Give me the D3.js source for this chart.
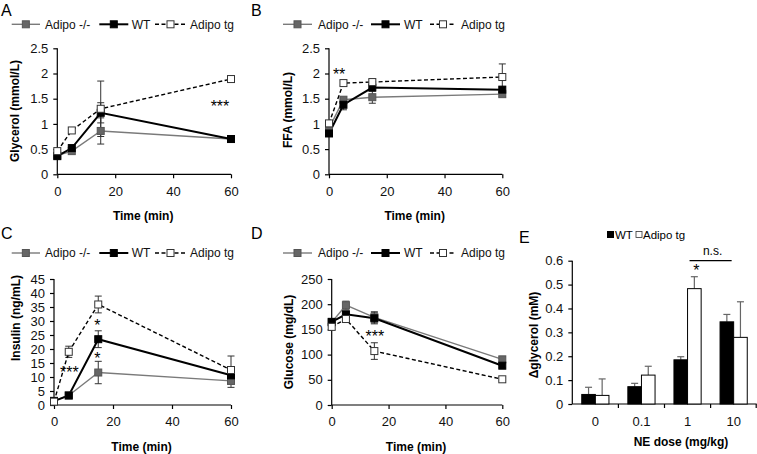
<!DOCTYPE html>
<html><head><meta charset="utf-8">
<script src="https://cdn.jsdelivr.net/npm/d3@7"></script>
<style>body{margin:0;background:#fff}svg{display:block}text{font-family:"Liberation Sans",Arial,sans-serif}</style>
</head><body>
<svg id="c" width="757" height="454"></svg>
<script>
// ---------- data ----------
const times = [0, 5, 15, 60];
const seriesNames = ["Adipo -/-", "WT", "Adipo tg"];

const glycerolKO = [0.37, 0.46, 0.86, 0.70];
const glycerolWT = [0.36, 0.52, 1.22, 0.70];
const glycerolTG = [0.46, 0.87, 1.30, 1.89];
const glycerolKOErr = [0.02, 0.03, 0.26, 0.02];
const glycerolWTErr = [0.02, 0.03, 0.20, 0.02];
const glycerolTGErr = [0.03, 0.05, 0.55, 0.03];

const ffaKO = [0.91, 1.48, 1.53, 1.59];
const ffaWT = [0.81, 1.38, 1.72, 1.68];
const ffaTG = [1.01, 1.81, 1.83, 1.93];
const ffaKOErr = [0.05, 0.05, 0.12, 0.05];
const ffaWTErr = [0.05, 0.10, 0.05, 0.05];
const ffaTGErr = [0.05, 0.05, 0.05, 0.26];

const insulinKO = [1.5, 3.4, 11.6, 8.6];
const insulinWT = [1.4, 3.4, 23.5, 10.6];
const insulinTG = [1.2, 19.0, 35.9, 12.5];
const insulinKOErr = [0.5, 0.5, 4.0, 2.3];
const insulinWTErr = [0.5, 0.5, 3.0, 1.0];
const insulinTGErr = [0.5, 2.0, 3.0, 5.0];

const glucoseKO = [164, 198, 174, 90.6];
const glucoseWT = [165, 180, 172, 78];
const glucoseTG = [155, 170.6, 107, 51];
const glucoseKOErr = [5, 8, 11, 5];
const glucoseWTErr = [5, 5, 11, 4];
const glucoseTGErr = [5, 5, 16.5, 3];

const doses = ["0", "0.1", "1", "10"];
const barWT = [0.040, 0.0725, 0.185, 0.344];
const barTG = [0.036, 0.121, 0.483, 0.279];
const barWTErr = [0.030, 0.014, 0.013, 0.031];
const barTGErr = [0.069, 0.037, 0.050, 0.149];

const xTicks = [0, 20, 40, 60];
// ---------- drawing ----------
const svg = d3.select("#c");
const FONT = "Liberation Sans, Arial, sans-serif";
const styles = [
  {stroke: "#7a7a7a", width: 1.4, dash: null, fill: "#666", mstroke: "#555"},
  {stroke: "#000", width: 2, dash: null, fill: "#000", mstroke: "#000"},
  {stroke: "#000", width: 1.4, dash: "4,2.5", fill: "#fff", mstroke: "#333"}
];
const STAR_SIZE = 16, STAR_DY = 9.3;

function legend(y, pos) {
  const g = svg.append("g");
  pos.forEach((p, i) => {
    const s = styles[i];
    g.append("line").attr("x1", p[0]).attr("x2", p[1]).attr("y1", y).attr("y2", y)
      .attr("stroke", s.stroke).attr("stroke-width", s.width).attr("stroke-dasharray", s.dash);
    const m = (p[0] + p[1]) / 2;
    g.append("rect").attr("x", m - 3.5).attr("y", y - 3.5).attr("width", 7).attr("height", 7)
      .attr("fill", s.fill).attr("stroke", s.mstroke).attr("stroke-width", 1);
    g.append("text").attr("x", p[2]).attr("y", y + 4.3).attr("font-size", 12).attr("fill", "#111").text(seriesNames[i]);
  });
}

function linePanel(o) {
  const x = d3.scaleLinear().domain([0, 60]).range([o.x0, o.x1]);
  const y = d3.scaleLinear().domain([0, o.ymax]).range([o.y0, o.y1]);
  const g = svg.append("g");
  const ya = g.append("g").attr("transform", `translate(${o.x0},0)`)
    .call(d3.axisLeft(y).tickValues(d3.range(0, o.ymax + o.step / 2, o.step)).tickSize(4).tickPadding(5).tickFormat(d => +d.toFixed(2)));
  const xa = g.append("g").attr("transform", `translate(0,${o.y0})`)
    .call(d3.axisBottom(x).tickValues(xTicks).tickSize(4).tickPadding(8));
  [ya, xa].forEach(a => {
    a.select(".domain").attr("stroke", "#000").attr("stroke-width", 1.2);
    a.selectAll(".tick line").attr("stroke", "#000").attr("stroke-width", 1.2);
    a.selectAll("text").attr("font-size", 13).attr("font-family", FONT).attr("fill", "#111");
  });
  ya.select(".domain").attr("d", `M0,${o.y0}V${o.y1}`);
  xa.select(".domain").attr("d", `M${o.x0},0H${o.x1}`);
  // titles
  g.append("text").attr("transform", `translate(${o.ytx},${o.yty}) rotate(-90)`).attr("text-anchor", "middle")
    .attr("font-size", 12).attr("font-weight", "bold").text(o.ytitle);
  g.append("text").attr("x", (o.x0 + o.x1) / 2 - 1).attr("y", o.y0 + 46).attr("text-anchor", "middle")
    .attr("font-size", 12).attr("font-weight", "bold").text("Time (min)");
  g.append("text").attr("x", o.lx).attr("y", o.ly).attr("font-size", 16).text(o.letter);
  // error bars
  o.series.forEach((s, i) => {
    const err = o.errs[i];
    s.forEach((v, j) => {
      if (err[j] <= 0) return;
      const cx = x(times[j]);
      g.append("line").attr("x1", cx).attr("x2", cx).attr("y1", y(v - err[j])).attr("y2", y(v + err[j])).attr("stroke", "#333").attr("stroke-width", 1);
      [v - err[j], v + err[j]].forEach(e => g.append("line").attr("x1", cx - 3.5).attr("x2", cx + 3.5).attr("y1", y(e)).attr("y2", y(e)).attr("stroke", "#333").attr("stroke-width", 1));
    });
  });
  const line = d3.line().x((d, j) => x(times[j])).y(d => y(d));
  o.series.forEach((s, i) => {
    const st = styles[i];
    g.append("path").attr("d", line(s)).attr("fill", "none").attr("stroke", st.stroke)
      .attr("stroke-width", st.width).attr("stroke-dasharray", st.dash);
  });
  o.series.forEach((s, i) => {
    const st = styles[i];
    s.forEach((v, j) => g.append("rect").attr("x", x(times[j]) - 3.5).attr("y", y(v) - 3.5).attr("width", 7).attr("height", 7)
      .attr("fill", st.fill).attr("stroke", st.mstroke).attr("stroke-width", 1));
  });
  o.stars.forEach(s => g.append("text").attr("x", x(s[0])).attr("y", y(s[1]) + STAR_DY).attr("text-anchor", "middle").attr("font-size", STAR_SIZE).text(s[2]));
  legend(o.legY, o.legPos);
}

linePanel({x0: 57.3, x1: 231, y0: 174.3, y1: 48.3, ymax: 2.5, step: 0.5, ytitle: "Glycerol (mmol/L)", ytx: 19, yty: 111,
  letter: "A", lx: 1, ly: 16, series: [glycerolKO, glycerolWT, glycerolTG], errs: [glycerolKOErr, glycerolWTErr, glycerolTGErr],
  stars: [[56.2, 1.42, "***"]], legY: 24.3, legPos: [[11.7, 40, 45], [99.3, 128.3, 131.7], [155, 186, 190]]});
linePanel({x0: 329, x1: 502.3, y0: 174.3, y1: 48.3, ymax: 2.5, step: 0.5, ytitle: "FFA (mmol/L)", ytx: 292, yty: 110,
  letter: "B", lx: 251, ly: 16, series: [ffaKO, ffaWT, ffaTG], errs: [ffaKOErr, ffaWTErr, ffaTGErr],
  stars: [[3.5, 2.06, "**"]], legY: 24.3, legPos: [[283, 312, 318], [371, 400, 404], [430, 456, 461]]});
linePanel({x0: 54, x1: 231, y0: 405, y1: 279, ymax: 45, step: 5, ytitle: "Insulin (ng/mL)", ytx: 20, yty: 318,
  letter: "C", lx: 1, ly: 239, series: [insulinKO, insulinWT, insulinTG], errs: [insulinKOErr, insulinWTErr, insulinTGErr],
  stars: [[14.7, 29.75, "*"], [14.7, 18.1, "*"], [5.2, 12.9, "***"]], legY: 253, legPos: [[11.7, 40, 45], [99.3, 128.3, 131.7], [155, 186, 190]]});
linePanel({x0: 331.7, x1: 502.3, y0: 405, y1: 279, ymax: 250, step: 50, ytitle: "Glucose (mg/dL)", ytx: 293, yty: 342,
  letter: "D", lx: 251, ly: 239, series: [glucoseKO, glucoseWT, glucoseTG], errs: [glucoseKOErr, glucoseWTErr, glucoseTGErr],
  stars: [[15.2, 143.5, "***"]], legY: 253, legPos: [[283, 312, 318], [371, 400, 404], [430, 456, 461]]});

// ---------- bar panel E ----------
(function () {
  const x0 = 572.3, x1 = 756.7, y0 = 404, y1 = 260.7;
  const x = d3.scaleBand().domain(doses).range([x0, x1]).paddingInner(0).paddingOuter(0);
  const y = d3.scaleLinear().domain([0, 0.6]).range([y0, y1]);
  const g = svg.append("g");
  const ya = g.append("g").attr("transform", `translate(${x0},0)`)
    .call(d3.axisLeft(y).tickValues(d3.range(0, 0.65, 0.1)).tickSize(4).tickPadding(5).tickFormat(d => +d.toFixed(1)));
  const xa = g.append("g").attr("transform", `translate(0,${y0})`)
    .call(d3.axisBottom(x).tickSize(0).tickPadding(13));
  [ya, xa].forEach(a => {
    a.select(".domain").attr("stroke", "#000").attr("stroke-width", 1.2);
    a.selectAll(".tick line").attr("stroke", "#000").attr("stroke-width", 1.2);
    a.selectAll("text").attr("font-size", 13).attr("font-family", FONT).attr("fill", "#111");
  });
  ya.select(".domain").attr("d", `M0,${y0}V${y1}`);
  xa.select(".domain").attr("d", `M${x0},0H${x1}`);
  doses.forEach((d, i) => {
    if (i === 0) return;
    g.append("line").attr("x1", x(d)).attr("x2", x(d)).attr("y1", y0).attr("y2", y0 + 4).attr("stroke", "#000").attr("stroke-width", 1.2);
  });
  g.append("line").attr("x1", x1 - 0.5).attr("x2", x1 - 0.5).attr("y1", y0).attr("y2", y0 + 4).attr("stroke", "#000").attr("stroke-width", 1.2);
  const bw = 13.6, off = x.bandwidth() / 2 - bw;
  const inner = d3.scaleBand().domain(["WT", "TG"]).range([0, 2 * bw]);
  [[barWT, barWTErr, "WT", "#000"], [barTG, barTGErr, "TG", "#fff"]].forEach(([vals, errs, k, fill]) => {
    vals.forEach((v, i) => {
      const bx = x(doses[i]) + off + inner(k);
      const cx = bx + bw / 2;
      g.append("line").attr("x1", cx).attr("x2", cx).attr("y1", y(v)).attr("y2", y(v + errs[i])).attr("stroke", "#666").attr("stroke-width", 1.2);
      g.append("line").attr("x1", cx - 3.5).attr("x2", cx + 3.5).attr("y1", y(v + errs[i])).attr("y2", y(v + errs[i])).attr("stroke", "#666").attr("stroke-width", 1.2);
      g.append("rect").attr("x", bx).attr("y", y(v)).attr("width", bw).attr("height", y0 - y(v))
        .attr("fill", fill).attr("stroke", "#000").attr("stroke-width", 1);
    });
  });
  // significance
  const c1 = x("1") + off + inner("TG") + bw / 2;
  g.append("text").attr("x", c1 + 2).attr("y", y(0.575) + STAR_DY).attr("text-anchor", "middle").attr("font-size", STAR_SIZE).text("*");
  const ns1 = x("1") + off + inner("TG") + 2, ns2 = x("10") + off + inner("TG") - 2;
  g.append("line").attr("x1", ns1).attr("x2", ns2).attr("y1", y(0.6)).attr("y2", y(0.6)).attr("stroke", "#000").attr("stroke-width", 1.2);
  g.append("text").attr("x", (ns1 + ns2) / 2 + 2).attr("y", y(0.623)).attr("text-anchor", "middle").attr("font-size", 12).text("n.s.");
  g.append("text").attr("transform", `translate(538,335) rotate(-90)`).attr("text-anchor", "middle")
    .attr("font-size", 12).attr("font-weight", "bold").text("Δglycerol  (mM)");
  g.append("text").attr("x", 681).attr("y", 446).attr("text-anchor", "middle")
    .attr("font-size", 12).attr("font-weight", "bold").text("NE dose (mg/kg)");
  g.append("text").attr("x", 519).attr("y", 243).attr("font-size", 16).text("E");
  // legend
  g.append("rect").attr("x", 607).attr("y", 231).attr("width", 7).attr("height", 7).attr("fill", "#000");
  g.append("text").attr("x", 615).attr("y", 239).attr("font-size", 11.5).text("WT");
  g.append("rect").attr("x", 636).attr("y", 231.5).attr("width", 6).attr("height", 6).attr("fill", "#fff").attr("stroke", "#333").attr("stroke-width", 0.8);
  g.append("text").attr("x", 643).attr("y", 239).attr("font-size", 11.5).text("Adipo tg");
})();
</script>
</body></html>
